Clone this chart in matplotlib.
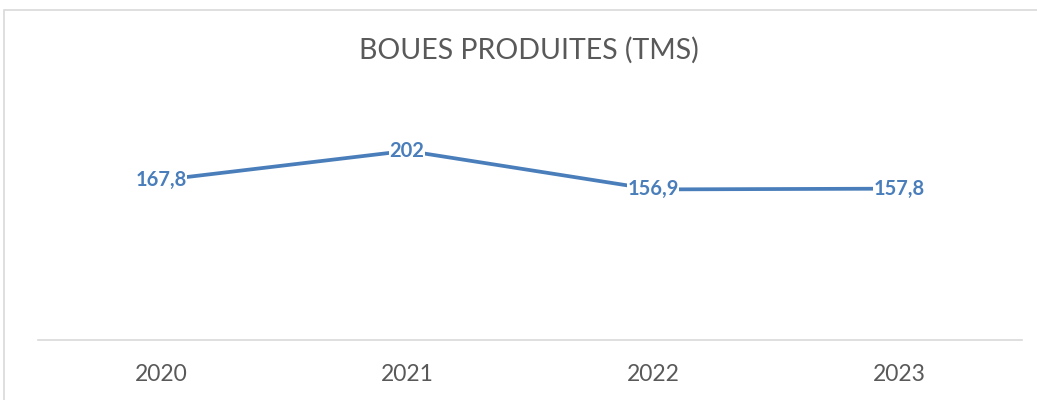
import matplotlib.pyplot as plt
from matplotlib.patches import Rectangle

## data
years = ['2020', '2021', '2022', '2023']
boues = [167.8, 202, 156.9, 157.8]
labels = ['167,8', '202', '156,9', '157,8']

blue = '#4a7ebb'
grey = '#595959'

fig = plt.figure(figsize=(10.37, 4), dpi=100)
ax = fig.add_axes([38 / 1037, 0.15, (1022 - 38) / 1037, 0.55])

x = range(len(years))
ax.plot(x, boues, color=blue, linewidth=2.7, solid_capstyle='butt', zorder=2)

for i, (v, lab) in enumerate(zip(boues, labels)):
    ax.text(i, v, lab, ha='center', va='center', color=blue, fontsize=14.5,
            fontweight='bold', family='Lato', zorder=3,
            bbox=dict(facecolor='white', edgecolor='none', pad=0.3))

ax.set_xlim(-0.5, 3.5)
ax.set_ylim(-19, 238)
ax.set_xticks(list(x))
ax.set_xticklabels(years, fontsize=16.5, color=grey, family='Lato')
ax.tick_params(axis='x', length=0, pad=17)
ax.set_yticks([])
for s in ['top', 'right', 'left']:
    ax.spines[s].set_visible(False)
ax.spines['bottom'].set_color('#d9d9d9')
ax.spines['bottom'].set_linewidth(1.2)

fig.text(529 / 1037, 1 - 50 / 400, 'BOUES PRODUITES (TMS)', ha='center', va='center',
         fontsize=20.5, color=grey, family='Lato')

# chart border
fig.patches.append(Rectangle((4 / 1037, -0.1), 1.2, 0.1 + 1 - 10 / 400,
                             transform=fig.transFigure, fill=False,
                             edgecolor='#d9d9d9', linewidth=1.2))

fig.savefig('out.png', dpi=100, facecolor='white')
